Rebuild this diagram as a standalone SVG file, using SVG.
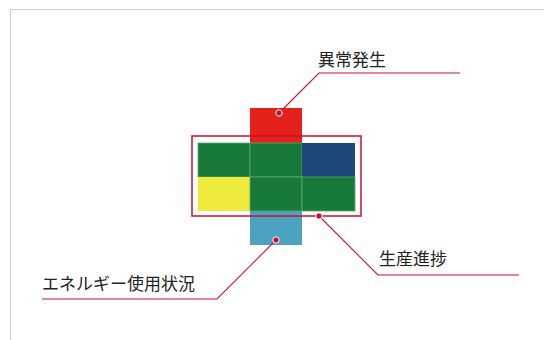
<svg xmlns="http://www.w3.org/2000/svg" width="544" height="340" viewBox="0 0 544 340">
<style>
.frame{fill:none;stroke:#cfcfcf;stroke-width:1.2}
.lead{fill:none;stroke:#c8102e;stroke-width:1.1}
.dot{fill:#c8102e;stroke:#fff;stroke-width:1}
.lbl{font-family:"Noto Sans CJK JP","Noto Sans",sans-serif;font-size:17px;fill:#222}
.cell{stroke:#5fa86a;stroke-width:0.8}
</style>
<rect width="544" height="340" fill="#fff"/>
<path class="frame" d="M10.5 340 V9.5 H544"/>
<g id="blocks">
  <rect x="250" y="108" width="52" height="35" fill="#e5211b"/>
  <rect x="250" y="211" width="52" height="34" fill="#4ba3bf"/>
  <rect class="cell" x="198" y="143" width="52" height="34" fill="#177a3a"/>
  <rect class="cell" x="250" y="143" width="52" height="34" fill="#177a3a"/>
  <rect x="302" y="143" width="53" height="34" fill="#1d477a"/>
  <rect x="198" y="177" width="52" height="34" fill="#eeea3c"/>
  <rect class="cell" x="250" y="177" width="52" height="34" fill="#177a3a"/>
  <rect class="cell" x="302" y="177" width="53" height="34" fill="#177a3a"/>
  <rect x="192" y="136" width="169" height="80" fill="none" stroke="#c8102e" stroke-width="1.5"/>
</g>
<g id="connectors">
  <path class="lead" d="M279 113 L319 73 H460"/>
  <path class="lead" d="M319 216 L378 275 H519"/>
  <path class="lead" d="M276 240 L217 299 H42"/>
  <circle class="dot" cx="279" cy="113" r="3.2"/>
  <circle class="dot" cx="319" cy="216" r="3.2"/>
  <circle class="dot" cx="276" cy="240" r="3.2"/>
</g>
<g id="label-ijou"><text class="lbl" x="318" y="66">異常発生</text></g>
<g id="label-seisan"><text class="lbl" x="379" y="265">生産進捗</text></g>
<g id="label-energy"><text class="lbl" x="42" y="290">エネルギー使用状況</text></g>
</svg>
